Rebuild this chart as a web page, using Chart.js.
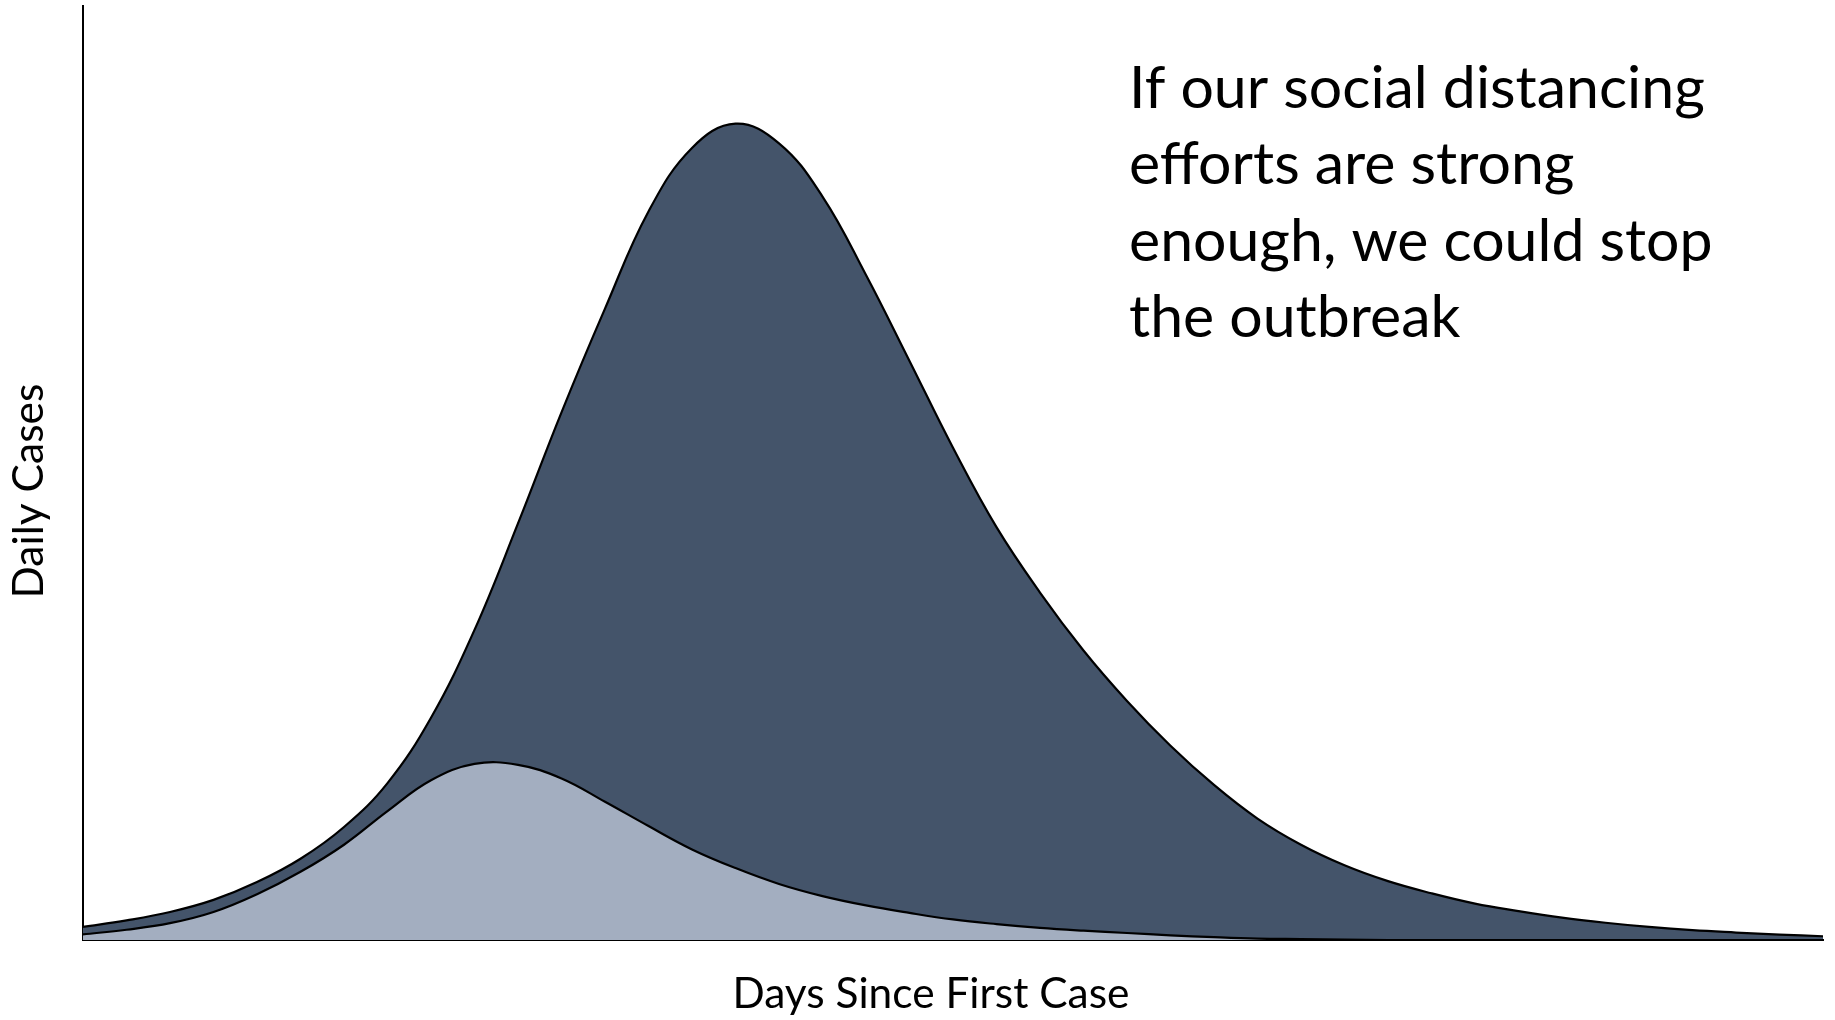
<!DOCTYPE html>
<html>
<head>
<meta charset="utf-8">
<script src="https://cdn.jsdelivr.net/npm/chart.js@4/dist/chart.umd.min.js"></script>
<style>
html,body{margin:0;padding:0;background:#fff;overflow:hidden}
canvas{display:block}
</style>
</head>
<body>
<canvas id="c" width="1835" height="1020"></canvas>
<script>
// ---- data ----
const days = [0,2.5,5,7.5,10,12.5,15,17.5,20,22.5,25,27.5,30,32.5,35,37.5,40,42.5,45,47.5,50,52.5,55,57.5,60,62.5,65,67.5,70,72.5,75,77.5,80,82.5,85,87.5,90,92.5,95,97.5,100];
const withoutDistancing = [1.4,2.1,3.0,4.3,6.2,8.7,12.1,16.8,23.8,33.2,44.6,56.5,67.6,78.0,84.8,87.4,85.3,79.6,71.2,62.0,52.7,44.2,37.2,31.0,25.6,20.8,16.6,13.0,10.2,8.0,6.3,5.0,3.9,3.1,2.4,1.85,1.4,1.05,0.8,0.58,0.4];
const withDistancing = [0.6,1.1,1.8,3.0,4.9,7.3,10.2,13.8,17.1,18.85,18.75,17.3,14.8,12.2,9.7,7.7,6.0,4.7,3.7,2.9,2.2,1.7,1.3,1.0,0.75,0.5,0.3,0.15,0.1,0.05,0,0,0,0,0,0,0,0,0,0,0];
const xAxisTitle = 'Days Since First Case';
const yAxisTitle = 'Daily Cases';
const annotationLines = ['If our social distancing','efforts are strong','enough, we could stop','the outbreak'];

// ---- styles ----
const FONT = 'Lato';
const mctx = document.createElement('canvas').getContext('2d');
function fitSize(text, width) {
  mctx.font = '100px ' + FONT;
  return 100 * width / mctx.measureText(text).width;
}
const annoSize = fitSize(annotationLines[0], 576);
const xTitleSize = fitSize(xAxisTitle, 397);
const yTitleSize = fitSize(yAxisTitle, 215);

const textPlugin = {
  id: 'textLabels',
  afterDraw(chart) {
    const ctx = chart.ctx;
    ctx.save();
    ctx.fillStyle = '#000';
    ctx.textBaseline = 'alphabetic';
    // annotation
    ctx.font = annoSize + 'px ' + FONT;
    ctx.textAlign = 'left';
    annotationLines.forEach((t, i) => ctx.fillText(t, 1129, 108 + i * 76.3));
    // x axis title
    ctx.font = xTitleSize + 'px ' + FONT;
    ctx.textAlign = 'center';
    ctx.fillText(xAxisTitle, 931, 1008);
    // y axis title (rotated)
    ctx.font = yTitleSize + 'px ' + FONT;
    ctx.translate(43, 491);
    ctx.rotate(-Math.PI / 2);
    ctx.textAlign = 'center';
    ctx.fillText(yAxisTitle, 0, 0);
    ctx.restore();
  }
};

new Chart(document.getElementById('c'), {
  type: 'line',
  data: {
    datasets: [
      {
        label: 'With social distancing',
        data: days.map((d, i) => ({x: d, y: withDistancing[i]})),
        borderColor: '#000',
        borderWidth: 2.2,
        backgroundColor: '#A3AEC0',
        fill: 'origin',
        pointRadius: 0,
        tension: 0.4
      },
      {
        label: 'Without social distancing',
        data: days.map((d, i) => ({x: d, y: withoutDistancing[i]})),
        borderColor: '#000',
        borderWidth: 2.2,
        backgroundColor: '#44546A',
        fill: 'origin',
        pointRadius: 0,
        tension: 0.4
      }
    ]
  },
  options: {
    responsive: false,
    animation: false,
    devicePixelRatio: 1,
    layout: {padding: {left: 83, top: 6, right: 12, bottom: 80}},
    plugins: {legend: {display: false}, tooltip: {enabled: false}},
    scales: {
      x: {
        type: 'linear', min: 0, max: 100,
        ticks: {display: false},
        grid: {display: false, drawTicks: false},
        border: {display: true, color: '#000', width: 2},
        title: {display: false, text: xAxisTitle}
      },
      y: {
        min: 0, max: 100,
        ticks: {display: false},
        grid: {display: false, drawTicks: false},
        border: {display: true, color: '#000', width: 2},
        title: {display: false, text: yAxisTitle}
      }
    }
  },
  plugins: [textPlugin]
});
</script>
</body>
</html>
